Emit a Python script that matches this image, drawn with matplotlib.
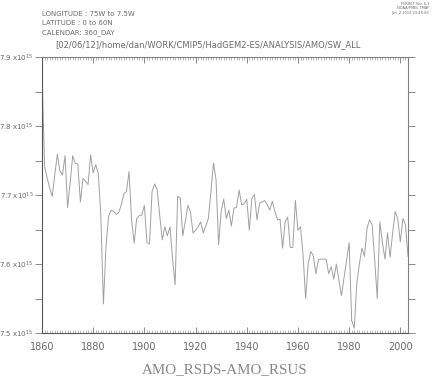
import numpy as np
import matplotlib
matplotlib.use("Agg")
import matplotlib.pyplot as plt
from matplotlib.ticker import MultipleLocator, FixedLocator

start_year = 1860
values = [
    # 1860-1926
    7.880, 7.742, 7.725, 7.710, 7.698, 7.730, 7.759, 7.735, 7.729, 7.757,
    7.682, 7.718, 7.757, 7.746, 7.745, 7.690, 7.724, 7.720, 7.715, 7.758,
    7.732, 7.744, 7.731, 7.669, 7.542, 7.625, 7.669, 7.678, 7.676, 7.672,
    7.675, 7.686, 7.702, 7.705, 7.734, 7.664, 7.630, 7.666, 7.670, 7.671,
    7.685, 7.631, 7.629, 7.705, 7.716, 7.708, 7.670, 7.635, 7.654, 7.641,
    7.654, 7.608, 7.570, 7.698, 7.696, 7.641, 7.662, 7.685, 7.676, 7.645,
    7.649, 7.654, 7.661, 7.645, 7.655, 7.666, 7.705,
    # 1927-1963
    7.746, 7.722, 7.628, 7.676, 7.694, 7.666, 7.678, 7.655, 7.681, 7.682,
    7.707, 7.686, 7.687, 7.694, 7.649, 7.695, 7.701, 7.664, 7.688, 7.690,
    7.692, 7.686, 7.678, 7.691, 7.676, 7.664, 7.665, 7.623, 7.661, 7.668,
    7.624, 7.624, 7.692, 7.649, 7.654, 7.613, 7.550,
    # 1964-2003
    7.600, 7.618, 7.612, 7.586, 7.606, 7.607, 7.607, 7.607, 7.586, 7.596,
    7.578, 7.600, 7.577, 7.554, 7.580, 7.605, 7.631, 7.518, 7.507, 7.572,
    7.600, 7.623, 7.611, 7.652, 7.664, 7.657, 7.605, 7.550, 7.661, 7.631,
    7.607, 7.645, 7.610, 7.645, 7.676, 7.666, 7.632, 7.666, 7.657, 7.611,
]
years = np.arange(start_year, start_year + len(values))

y_ticks = [7.5, 7.6, 7.7, 7.8, 7.9]
y_ticklabels = ["7.5 x10$^{15}$", "7.6 x10$^{15}$", "7.7 x10$^{15}$",
                "7.8 x10$^{15}$", "7.9 x10$^{15}$"]
x_ticks = [1860, 1880, 1900, 1920, 1940, 1960, 1980, 2000]

header_lines = ["LONGITUDE : 75W to 7.5W", "LATITUDE : 0 to 60N", "CALENDAR: 360_DAY"]
title = "[02/06/12]/home/dan/WORK/CMIP5/HadGEM2-ES/ANALYSIS/AMO/SW_ALL"
stamp = ["FERRET Ver. 6.1", "NOAA/PMEL TMAP", "Jun  2 2012 23:48:06"]
xlabel = "AMO_RSDS-AMO_RSUS"

W, H = 432, 377
fig = plt.figure(figsize=(W / 100, H / 100), dpi=100)
L, R, T, B = 42, 408, 57, 333
ax = fig.add_axes([L / W, 1 - B / H, (R - L) / W, (B - T) / H])

tc = "#6a6a6a"
ax.plot(years, values, color="#a0a0a0", lw=0.7)
ax.set_xlim(years[0], years[-1])
ax.set_ylim(7.5, 7.9)

for s in ax.spines.values():
    s.set_color("#808080")
    s.set_linewidth(0.8)
ax.spines["left"].set_color("#555555")
ax.spines["bottom"].set_color("#555555")

ax.yaxis.set_major_locator(FixedLocator(y_ticks))
ax.set_yticklabels(y_ticklabels)
ax.yaxis.set_minor_locator(MultipleLocator(0.05))
ax.tick_params(axis="y", which="both", direction="out", length=5, width=0.6,
               color="#777777", labelsize=5, labelcolor=tc, pad=1,
               left=True, right=True, labelleft=True, labelright=False)

ax.xaxis.set_major_locator(FixedLocator(x_ticks))
ax.xaxis.set_minor_locator(MultipleLocator(1))
ax.tick_params(axis="x", which="major", direction="in", length=4, width=0.6,
               color="#777777", labelsize=7, labelcolor=tc, pad=6.5,
               top=True, bottom=True)
ax.tick_params(axis="x", which="minor", direction="in", length=2, width=0.4,
               color="#888888", top=True, bottom=True)

ax.set_xlabel(xlabel, family="Liberation Serif", fontsize=10.8, color="#888888", labelpad=8)

for i, line in enumerate(header_lines):
    fig.text(42 / W, 1 - (14 + 9.3 * i) / H, line, fontsize=5, color=tc,
             ha="left", va="center")
fig.text(208 / W, 1 - 45 / H, title, fontsize=6.0, color=tc, ha="center", va="center")
for i, line in enumerate(stamp):
    fig.text(429 / W, 1 - (4 + 4.3 * i) / H, line, fontsize=2.6, color=tc,
             ha="right", va="center")

fig.savefig("out.png", dpi=100)
